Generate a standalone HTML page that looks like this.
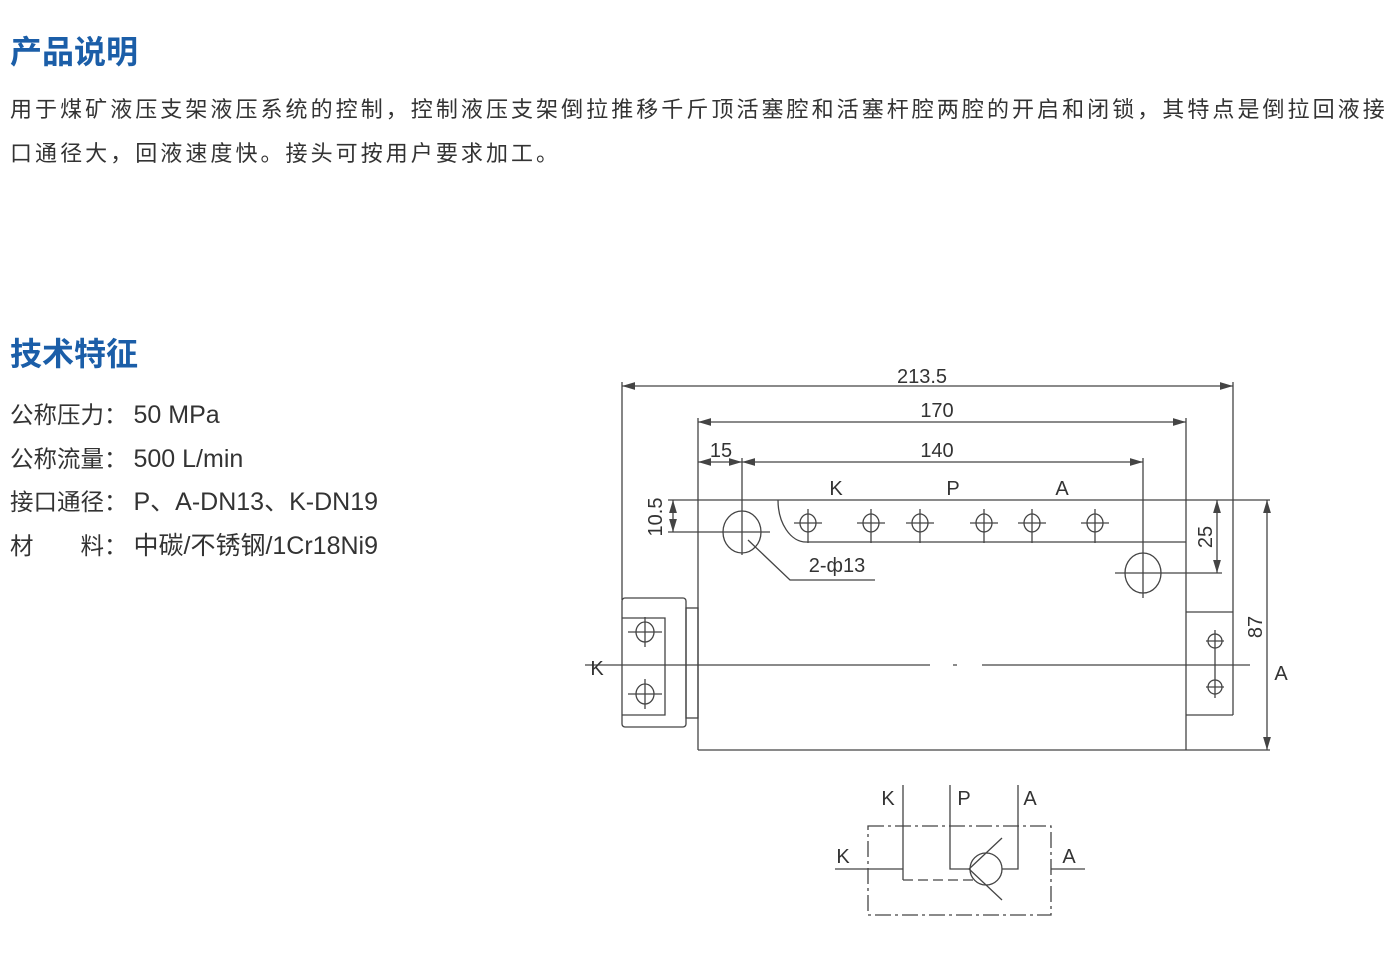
<!DOCTYPE html>
<html><head><meta charset="utf-8"><style>
body{margin:0;width:1394px;height:954px;background:#fff;position:relative;overflow:hidden;font-family:"Liberation Sans","Noto Sans CJK SC",sans-serif;color:#333}
.h{position:absolute;left:10px;font-size:32px;font-weight:bold;color:#1b5ea8;line-height:1}
.p{position:absolute;left:10px;font-size:22px;letter-spacing:3.05px;line-height:44px;white-space:nowrap}
.s{position:absolute;left:10px;font-size:23.5px;line-height:1;white-space:nowrap}
.s span{font-size:25px;margin-left:6px}
svg{position:absolute;left:0;top:0}
svg text{font-family:"Liberation Sans",sans-serif;font-size:20px;fill:#333}
</style></head><body>
<div class="h" style="top:36px">产品说明</div>
<div class="p" style="top:88px">用于煤矿液压支架液压系统的控制，控制液压支架倒拉推移千斤顶活塞腔和活塞杆腔两腔的开启和闭锁，其特点是倒拉回液接<br>口通径大，回液速度快。接头可按用户要求加工。</div>
<div class="h" style="top:338px">技术特征</div>
<div class="s" style="top:403px">公称压力：<span>50 MPa</span></div>
<div class="s" style="top:447px">公称流量：<span>500 L/min</span></div>
<div class="s" style="top:490px">接口通径：<span>P、A-DN13、K-DN19</span></div>
<div class="s" style="top:534px">材&emsp;&emsp;料：<span>中碳/不锈钢/1Cr18Ni9</span></div>
<svg width="1394" height="954" stroke="#444" stroke-width="1.3" fill="none">
<defs><marker id="a" markerWidth="10" markerHeight="6" refX="10" refY="3" orient="auto-start-reverse"><path d="M0,0L10,3L0,6z" fill="#444" stroke="none"/></marker></defs>
<line x1="622" y1="386" x2="1233" y2="386" marker-start="url(#a)" marker-end="url(#a)"/>
<line x1="698" y1="422" x2="1186" y2="422" marker-start="url(#a)" marker-end="url(#a)"/>
<line x1="698" y1="462" x2="742" y2="462" marker-start="url(#a)" marker-end="url(#a)"/>
<line x1="742" y1="462" x2="1143" y2="462" marker-start="url(#a)" marker-end="url(#a)"/>
<line x1="622" y1="382" x2="622" y2="600"/>
<line x1="1233" y1="382" x2="1233" y2="715"/>
<line x1="698" y1="418" x2="698" y2="750"/>
<line x1="1186" y1="418" x2="1186" y2="750"/>
<line x1="742" y1="458" x2="742" y2="555"/>
<line x1="1143" y1="458" x2="1143" y2="598"/>
<line x1="668" y1="500" x2="1270" y2="500"/>
<line x1="698" y1="750" x2="1270" y2="750"/>
<line x1="673" y1="500" x2="673" y2="532" marker-start="url(#a)" marker-end="url(#a)"/>
<line x1="668" y1="532" x2="770" y2="532"/>
<line x1="1217" y1="500" x2="1217" y2="573" marker-start="url(#a)" marker-end="url(#a)"/>
<line x1="1115" y1="573" x2="1222" y2="573"/>
<line x1="1267" y1="500" x2="1267" y2="750" marker-start="url(#a)" marker-end="url(#a)"/>
<ellipse cx="742" cy="532" rx="19" ry="21"/>
<ellipse cx="1143" cy="573" rx="18" ry="20"/>
<polyline points="748,540 790,580 875,580"/>
<path d="M778,500 A28,42 0 0 0 806,542 L1186,542"/>
<g>
<ellipse cx="808" cy="523" rx="8" ry="9"/><path d="M794,523h28M808,509v34"/>
<ellipse cx="871" cy="523" rx="8" ry="9"/><path d="M857,523h28M871,509v34"/>
<ellipse cx="920" cy="523" rx="8" ry="9"/><path d="M906,523h28M920,509v34"/>
<ellipse cx="984" cy="523" rx="8" ry="9"/><path d="M970,523h28M984,509v34"/>
<ellipse cx="1032" cy="523" rx="8" ry="9"/><path d="M1018,523h28M1032,509v34"/>
<ellipse cx="1095" cy="523" rx="8" ry="9"/><path d="M1081,523h28M1095,509v34"/>
</g>
<path d="M1186,612H1233M1186,715H1233"/>
<circle cx="1215" cy="641" r="7"/><circle cx="1215" cy="687" r="7"/>
<path d="M1206,641h18M1206,687h18M1215,630v68"/>
<rect x="622" y="598" width="64" height="129" rx="3"/>
<rect x="686" y="608" width="12" height="110"/>
<path d="M622,618H665V715H622"/>
<ellipse cx="645" cy="632" rx="9" ry="10"/><ellipse cx="645" cy="694" rx="9" ry="10"/>
<path d="M628,632h34M645,617v30M628,694h34M645,679v30"/>
<path d="M585,665H930M953,665h4M982,665H1250"/>
<path d="M903,785V880M950,785V869H970M1018,785V869H1002M835,869H903M1051,869H1085"/>
<path d="M903,880H975" stroke-dasharray="10,5"/>
<circle cx="986" cy="869" r="16"/>
<path d="M1002,838L969,869L1002,900"/>
<rect x="868" y="826" width="183" height="89" stroke-dasharray="16,4,3,4"/>
</svg>
<svg width="1394" height="954">
<text x="922" y="383" text-anchor="middle">213.5</text>
<text x="937" y="417" text-anchor="middle">170</text>
<text x="721" y="457" text-anchor="middle">15</text>
<text x="937" y="457" text-anchor="middle">140</text>
<text x="836" y="495" text-anchor="middle">K</text>
<text x="953" y="495" text-anchor="middle">P</text>
<text x="1062" y="495" text-anchor="middle">A</text>
<text x="837" y="572" text-anchor="middle">2-ф13</text>
<text transform="translate(662,517) rotate(-90)" text-anchor="middle">10.5</text>
<text transform="translate(1212,537) rotate(-90)" text-anchor="middle">25</text>
<text transform="translate(1262,627) rotate(-90)" text-anchor="middle">87</text>
<text x="597" y="675" text-anchor="middle">K</text>
<text x="1281" y="680" text-anchor="middle">A</text>
<text x="888" y="805" text-anchor="middle">K</text>
<text x="964" y="805" text-anchor="middle">P</text>
<text x="1030" y="805" text-anchor="middle">A</text>
<text x="843" y="863" text-anchor="middle">K</text>
<text x="1069" y="863" text-anchor="middle">A</text>
</svg>
</body></html>
